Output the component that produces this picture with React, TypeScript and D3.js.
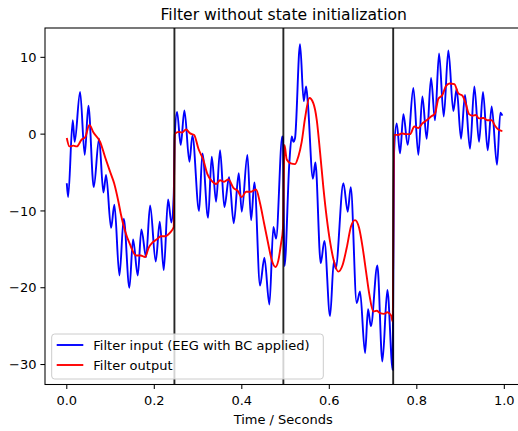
import React from "react";
import * as d3 from "d3";

// Filter input (blue) — time (s) and value
const inputT = [
  0, 0.003, 0.0136, 0.018, 0.0304, 0.041, 0.0494, 0.0616, 0.0738, 0.0837, 0.0898, 0.1012, 0.1088, 0.1203, 0.1302, 0.1431, 0.1515, 0.1622, 0.1705, 0.1812, 0.1904, 0.2033, 0.2125, 0.2216, 0.2315, 0.2391, 0.2444,
  0.2467, 0.252, 0.2604, 0.2688, 0.2803, 0.2871, 0.3023, 0.31, 0.3229, 0.3313, 0.3412, 0.3503, 0.3602, 0.3709, 0.3816, 0.393, 0.3999, 0.4128, 0.4212, 0.4288, 0.4417, 0.4516, 0.4631, 0.4722, 0.4783, 0.4925, 0.494,
  0.4975, 0.5088, 0.5141, 0.5179, 0.5217, 0.5331, 0.5415, 0.547, 0.551, 0.5625, 0.5682, 0.5804, 0.5888, 0.6017, 0.6105, 0.6145, 0.6322, 0.6421, 0.649, 0.6626, 0.6702, 0.6817, 0.6885, 0.695, 0.7098, 0.7213, 0.7327, 0.7449,
  0.7479, 0.754, 0.7617, 0.7693, 0.7792, 0.7921, 0.8035, 0.8127, 0.8226, 0.8325, 0.8416, 0.8508, 0.8615, 0.8721, 0.8835, 0.8911, 0.901, 0.9102, 0.9216, 0.9315, 0.9422, 0.9513, 0.962, 0.9711, 0.9833, 0.9909, 0.9955,
];
const inputV = [
  -6.4, -8.2, 1.8, -1.0, 5.5, -2.7, 3.7, -6.9, -0.6, -7.6, -5.3, -12.2, -9.2, -18.4, -11.0, -20.0, -13.7, -18.4, -12.4, -16.0, -9.3, -16.6, -11.4, -17.7, -8.5, -11.5, -8.0,
  -0.35, 2.9, -1.4, 3.1, -3.6, -0.2, -10.0, -2.5, -10.9, -2.95, -8.8, -2.1, -9.5, -5.6, -11.6, -5.1, -10.1, -2.7, -11.2, -6.3, -19.7, -16.1, -22.2, -12.1, -13.6, -0.3, -0.5,
  -17.2, -3.6, -0.3, -1.0, -0.5, 11.7, 4.3, 6.2, 4.0, -5.8, -3.7, -16.8, -13.9, -23.7, -16.5, -17.5, -6.4, -10.1, -6.9, -22.0, -20.5, -28.5, -22.8, -25.0, -17.1, -29.6, -20.3, -30.7,
  -2.5, 1.4, -2.5, 2.6, -1.4, 6.0, -2.7, 4.9, -0.6, 7.3, 1.8, 10.5, 2.3, 10.9, 3.0, 5.9, -0.6, 5.1, -1.9, 6.2, -1.0, 5.5, -2.1, 3.6, -4.0, 2.8, 2.4,
];

// Filter output (red)
const outputT = [
  0, 0.006, 0.015, 0.023, 0.034, 0.042, 0.0517, 0.061, 0.0762, 0.0876, 0.099, 0.1082, 0.118, 0.1235, 0.1332, 0.144, 0.1583, 0.169, 0.179, 0.187, 0.196, 0.2057, 0.215, 0.225, 0.235, 0.2444,
  0.2467, 0.2551, 0.2627, 0.2726, 0.2818, 0.291, 0.3009, 0.3123, 0.3214, 0.3313, 0.3412, 0.3503, 0.3595, 0.3694, 0.3808, 0.3907, 0.3999, 0.4098, 0.4212, 0.4326, 0.4417, 0.4509, 0.4608, 0.4684, 0.4768, 0.4837, 0.4898, 0.494,
  0.4975, 0.5027, 0.5118, 0.5217, 0.5293, 0.5369, 0.5446, 0.5545, 0.5636, 0.5712, 0.5788, 0.5865, 0.5941, 0.6017, 0.6108, 0.6207, 0.6306, 0.6398, 0.6497, 0.6588, 0.668, 0.6763, 0.684, 0.6916, 0.7007, 0.7084, 0.716, 0.7251, 0.7327, 0.7411, 0.7449,
  0.7479, 0.7579, 0.7655, 0.7746, 0.7845, 0.7944, 0.8035, 0.8127, 0.8226, 0.8325, 0.8416, 0.8492, 0.8584, 0.866, 0.8744, 0.8858, 0.895, 0.9041, 0.9117, 0.9193, 0.9269, 0.9346, 0.9422, 0.9521, 0.962, 0.9711, 0.9787, 0.9864, 0.9955,
];
const outputV = [
  -0.5, -1.6, -1.5, -1.6, -0.7, -0.4, 1.2, 0.2, -1.0, -3.0, -4.9, -6.4, -8.8, -10.4, -12.6, -14.3, -15.8, -15.8, -16.0, -14.8, -14.1, -13.7, -13.3, -13.3, -12.9, -12.1,
  0, 0.3, 0.2, 0.6, 0.1, -0.1, -1.9, -3.4, -5.2, -6.1, -6.5, -6.0, -6.2, -5.9, -7.0, -7.4, -8.2, -7.5, -7.5, -7.2, -9.0, -11.6, -14.4, -16.4, -17.3, -16.4, -14.2, -12.3,
  -1.4, -3.3, -3.8, -3.9, -2.9, -1.0, 2.1, 4.7, 4.0, 1.9, -2.3, -7.0, -10.9, -14.0, -16.6, -17.9, -17.0, -14.8, -12.0, -11.2, -12.2, -14.8, -17.9, -20.9, -23.1, -23.0, -23.3, -23.4, -23.2, -23.6, -24.4,
  -0.1, -0.1, 0.1, 0.0, 0.0, 1.0, 0.8, 1.4, 1.8, 2.3, 2.7, 4.6, 5.1, 6.2, 6.6, 6.5, 5.3, 5.0, 4.0, 2.6, 2.4, 2.5, 2.05, 2.1, 1.8, 1.8, 1.1, 0.6, 0.4,
];

const segmentBoundaries = [0.246, 0.495, 0.746];
const xTicks = [0, 0.2, 0.4, 0.6, 0.8, 1.0];
const yTicks = [10, 0, -10, -20, -30];
const legendLabels = ["Filter input (EEG with BC applied)", "Filter output"];
const title = "Filter without state initialization";
const xLabel = "Time / Seconds";

const W = 518;
const H = 431;
const FONT = "DejaVu Sans, sans-serif";

export default function App() {
  const left = 45, top = 28, bottom = 384.5;
  const x = d3.scaleLinear().domain([-0.0498, 1.0459]).range([left, 524.4]);
  const y = d3.scaleLinear().domain([-32.6, 13.82]).range([bottom, top]);
  const right = x.range()[1];

  const line = d3
    .line<[number, number]>()
    .x((d) => x(d[0]))
    .y((d) => y(d[1]))
    .curve(d3.curveMonotoneX);

  const inputPts = inputT.map((t, i) => [t, inputV[i]] as [number, number]);
  const outputPts = outputT.map((t, i) => [t, outputV[i]] as [number, number]);

  const fmtX = d3.format(".1f");
  const textColor = "#000";

  return (
    <svg
      width={W}
      height={H}
      style={{ position: "absolute", left: 0, top: 0, background: "#fff" }}
      fontFamily={FONT}
    >
      <defs>
        <clipPath id="plotclip">
          <rect x={left} y={top} width={right - left} height={bottom - top} />
        </clipPath>
      </defs>
      <rect x={0} y={0} width={W} height={H} fill="#fff" />

      <g clipPath="url(#plotclip)">
        <path d={line(inputPts) || ""} fill="none" stroke="#0000ff" strokeWidth={1.9} strokeLinejoin="round" />
        <path d={line(outputPts) || ""} fill="none" stroke="#ff0000" strokeWidth={1.9} strokeLinejoin="round" />
        {segmentBoundaries.map((b) => (
          <line key={b} x1={x(b)} x2={x(b)} y1={top} y2={bottom} stroke="#000" strokeOpacity={0.85} strokeWidth={1.9} />
        ))}
      </g>

      {/* spines */}
      <rect x={left} y={top} width={right - left} height={bottom - top} fill="none" stroke="#000" strokeWidth={1.05} />

      {/* x ticks */}
      {xTicks.map((t) => (
        <g key={t}>
          <line x1={x(t)} x2={x(t)} y1={bottom} y2={bottom + 4.6} stroke="#000" strokeWidth={1.05} />
          <text x={x(t)} y={bottom + 20} textAnchor="middle" fontSize={13} fill={textColor}>
            {fmtX(t)}
          </text>
        </g>
      ))}
      {/* y ticks */}
      {yTicks.map((v) => (
        <g key={v}>
          <line x1={left - 4.6} x2={left} y1={y(v)} y2={y(v)} stroke="#000" strokeWidth={1.05} />
          <text x={left - 8.5} y={y(v)} dy="0.36em" textAnchor="end" fontSize={13} fill={textColor}>
            {v < 0 ? "\u2212" + Math.abs(v) : String(v)}
          </text>
        </g>
      ))}

      <text x={(left + right) / 2 - 1.5} y={424} textAnchor="middle" fontSize={13} fill={textColor}>
        {xLabel}
      </text>
      <text x={(left + right) / 2 - 1} y={19.5} textAnchor="middle" fontSize={15.6} fill={textColor}>
        {title}
      </text>

      {/* legend */}
      <g>
        <rect x={51.7} y={334} width={271.6} height={45} rx={3} ry={3} fill="#fff" fillOpacity={0.8} stroke="#cccccc" strokeWidth={1} />
        <line x1={56.7} x2={83.3} y1={345} y2={345} stroke="#0000ff" strokeWidth={1.9} />
        <text x={93.3} y={345} dy="0.36em" fontSize={13} fill={textColor}>{legendLabels[0]}</text>
        <line x1={56.7} x2={83.3} y1={365} y2={365} stroke="#ff0000" strokeWidth={1.9} />
        <text x={93.3} y={365} dy="0.36em" fontSize={13} fill={textColor}>{legendLabels[1]}</text>
      </g>
    </svg>
  );
}
